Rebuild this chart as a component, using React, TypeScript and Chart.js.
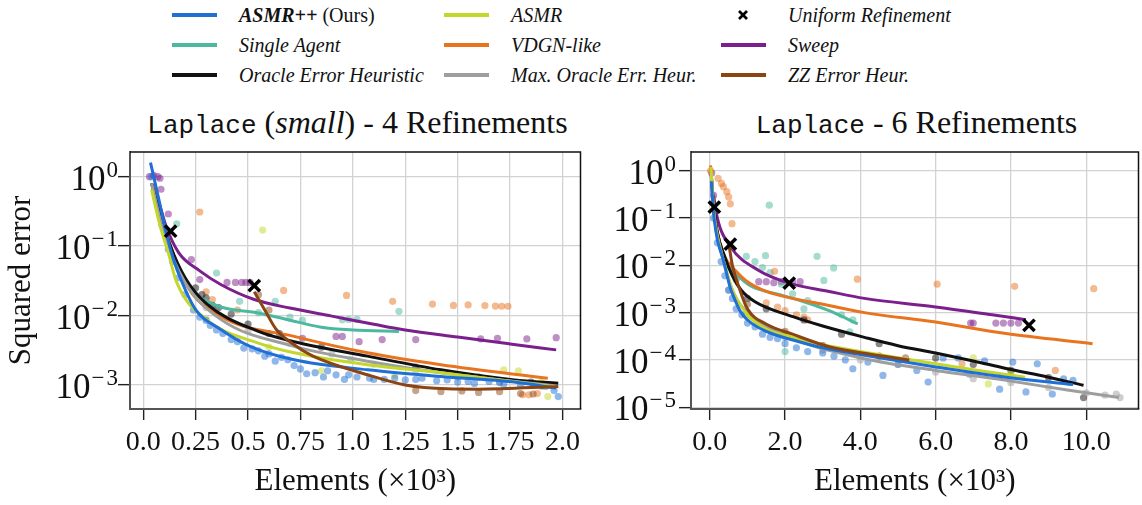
import React, { useEffect, useRef } from "react";
import { Chart, registerables } from "chart.js";

Chart.register(...registerables);

type Pt = [number, number];

const FONT = "'Liberation Serif', 'DejaVu Serif', serif";
const MONO = "'Liberation Mono', 'DejaVu Sans Mono', monospace";

// ---------------- colours
const COLOR_ASMRPP = "#1f6fd6";
const COLOR_SINGLE = "#4db8a0";
const COLOR_ORACLE = "#111111";
const COLOR_ASMR = "#c3d72c";
const COLOR_VDGN = "#e8741f";
const COLOR_MAXORACLE = "#9e9e9e";
const COLOR_SWEEP = "#7b1f8c";
const COLOR_ZZ = "#8b4513";
const COLOR_UNIFORM = "#000000";

// ---------------- ticks
const LEFT_X_TICKS = [0, 0.25, 0.5, 0.75, 1, 1.25, 1.5, 1.75, 2];
const LEFT_X_LABELS = ["0.0", "0.25", "0.5", "0.75", "1.0", "1.25", "1.5", "1.75", "2.0"];
const LEFT_Y_TICKS = [1e-3, 1e-2, 1e-1, 1];
const LEFT_Y_EXPONENTS = ["−3", "−2", "−1", "0"];
const RIGHT_X_TICKS = [0, 2, 4, 6, 8, 10];
const RIGHT_X_LABELS = ["0.0", "2.0", "4.0", "6.0", "8.0", "10.0"];
const RIGHT_Y_TICKS = [1e-5, 1e-4, 1e-3, 1e-2, 1e-1, 1];
const RIGHT_Y_EXPONENTS = ["−5", "−4", "−3", "−2", "−1", "0"];
const Y_TICK_BASE = "10";

const LEFT_TITLE_MONO = "Laplace";
const LEFT_TITLE_PRE = " (";
const LEFT_TITLE_ITALIC = "small";
const LEFT_TITLE_POST = ") - 4 Refinements";
const RIGHT_TITLE_MONO = "Laplace";
const RIGHT_TITLE_POST = " - 6 Refinements";
const X_AXIS_TITLE = "Elements (×10³)";
const Y_AXIS_TITLE = "Squared error";

// ---------------- left plot (Laplace small, 4 refinements)
const L_ASMRPP_LINE: Pt[] = [[0.035, 1.6], [0.075, 0.47], [0.11, 0.155], [0.145, 0.064], [0.18, 0.033], [0.25, 0.0122], [0.37, 0.0063], [0.51, 0.0036], [0.72, 0.0023], [1.07, 0.00165], [1.42, 0.00132], [1.77, 0.0011], [1.97, 0.0009]];
const L_ASMR_LINE: Pt[] = [[0.04, 0.65], [0.08, 0.2], [0.12, 0.08], [0.16, 0.03], [0.3, 0.0088], [0.55, 0.004], [0.72, 0.0029], [1.07, 0.00195], [1.42, 0.0015], [1.95, 0.00095]];
const L_ORACLE_LINE: Pt[] = [[0.04, 0.8], [0.08, 0.3], [0.13, 0.1], [0.2, 0.035], [0.3, 0.015], [0.55, 0.0059], [0.72, 0.0042], [1.07, 0.0026], [1.42, 0.00165], [1.77, 0.00118], [1.98, 0.00106]];
const L_MAXORACLE_LINE: Pt[] = [[0.04, 0.8], [0.1, 0.15], [0.2, 0.03], [0.37, 0.0088], [0.72, 0.0036], [1.07, 0.0022], [1.42, 0.0015], [1.95, 0.00098]];
const L_VDGN_LINE: Pt[] = [[0.05, 0.8], [0.1, 0.2], [0.2, 0.03], [0.37, 0.0098], [0.72, 0.005], [1.07, 0.0029], [1.42, 0.00195], [1.93, 0.00125]];
const L_SINGLE_LINE: Pt[] = [[0.04, 0.8], [0.1, 0.15], [0.2, 0.03], [0.35, 0.014], [0.55, 0.0109], [0.69, 0.0087], [0.85, 0.0068], [1.0, 0.0062], [1.22, 0.0059]];
const L_SWEEP_LINE: Pt[] = [[0.06, 0.6], [0.09, 0.3], [0.11, 0.19], [0.17, 0.08], [0.27, 0.044], [0.37, 0.028], [0.53, 0.017], [0.7, 0.0128], [0.9, 0.0098], [1.1, 0.0075], [1.25, 0.0062], [1.5, 0.0049], [1.75, 0.0039], [1.97, 0.0032]];
const L_ZZ_LINE: Pt[] = [[0.53, 0.022], [0.58, 0.012], [0.635, 0.0063], [0.72, 0.0038], [0.81, 0.0026], [1.07, 0.0014], [1.25, 0.001], [1.45, 0.00088], [1.6, 0.00087], [1.98, 0.00095]];
const L_UNIFORM: Pt[] = [[0.131, 0.164], [0.53, 0.027]];

const L_ASMRPP_DOTS: Pt[] = [[0.04, 1.0], [0.06, 0.5], [0.09, 0.2], [0.12, 0.09], [0.14, 0.06], [0.17, 0.035], [0.2, 0.02], [0.24, 0.012], [0.27, 0.0095], [0.3, 0.0085], [0.32, 0.0072], [0.35, 0.0062], [0.38, 0.0055], [0.42, 0.0045], [0.45, 0.0042], [0.48, 0.0034], [0.52, 0.0033], [0.55, 0.0031], [0.58, 0.0026], [0.6, 0.0028], [0.63, 0.0022], [0.66, 0.0025], [0.69, 0.0023], [0.72, 0.0019], [0.75, 0.0017], [0.78, 0.00145], [0.82, 0.0015], [0.86, 0.0013], [0.88, 0.0016], [0.92, 0.0014], [0.96, 0.0012], [0.98, 0.0014], [1.02, 0.0013], [1.08, 0.00125], [1.1, 0.0012], [1.15, 0.0012], [1.2, 0.00125], [1.25, 0.00118], [1.3, 0.0012], [1.33, 0.00125], [1.4, 0.00115], [1.45, 0.00118], [1.5, 0.0011], [1.55, 0.00112], [1.58, 0.00105], [1.65, 0.00112], [1.7, 0.00108], [1.72, 0.00102], [1.8, 0.00098], [1.86, 0.00105], [1.9, 0.00098], [1.92, 0.00095], [1.96, 0.00083], [1.98, 0.00068]];
const L_ASMR_DOTS: Pt[] = [[0.57, 0.17], [0.3, 0.009], [0.6, 0.0035], [0.85, 0.0016], [1.2, 0.0014], [1.72, 0.00165], [1.79, 0.0016], [1.9, 0.0011], [1.93, 0.00068]];
const L_ORACLE_DOTS: Pt[] = [[0.25, 0.025], [0.28, 0.02], [0.3, 0.018], [0.33, 0.014], [0.36, 0.013], [0.42, 0.0105], [0.5, 0.0075], [0.6, 0.0055], [0.65, 0.0055], [0.85, 0.0035], [1.3, 0.0018], [1.6, 0.0013], [1.85, 0.0011]];
const L_MAXORACLE_DOTS: Pt[] = [[0.3, 0.013], [0.5, 0.006], [0.7, 0.004], [0.9, 0.0028], [1.1, 0.002], [1.3, 0.0016], [1.5, 0.0013], [1.7, 0.0011], [1.9, 0.00095]];
const L_VDGN_DOTS: Pt[] = [[0.27, 0.31], [0.3, 0.022], [0.33, 0.017], [0.45, 0.012], [0.67, 0.023], [0.97, 0.0195], [1.19, 0.016], [1.38, 0.0146], [1.48, 0.014], [1.55, 0.0142], [1.63, 0.0139], [1.68, 0.0137], [1.71, 0.0136], [1.74, 0.0136], [1.81, 0.00072], [1.84, 0.00072], [1.88, 0.00075]];
const L_SINGLE_DOTS: Pt[] = [[0.16, 0.21], [0.35, 0.041], [0.46, 0.016], [0.55, 0.011], [0.63, 0.016], [0.7, 0.0095], [0.76, 0.0085], [0.95, 0.0087], [0.98, 0.0088], [1.02, 0.0088], [1.22, 0.0115], [0.99, 0.0023]];
const L_SWEEP_DOTS: Pt[] = [[0.03, 1.0], [0.05, 1.05], [0.07, 1.0], [0.08, 0.95], [0.085, 0.66], [0.12, 0.29], [0.23, 0.064], [0.27, 0.033], [0.4, 0.03], [0.44, 0.03], [0.47, 0.03], [0.49, 0.03], [0.51, 0.03], [0.76, 0.0047], [0.92, 0.005], [0.95, 0.005], [1.03, 0.0042], [1.14, 0.0045], [1.3, 0.0045], [1.61, 0.0046], [1.69, 0.0047], [1.83, 0.0046], [1.97, 0.0048]];
const L_ZZ_DOTS: Pt[] = [[0.55, 0.02], [0.6, 0.012], [1.3, 0.00083], [1.42, 0.0008], [1.52, 0.00082], [1.6, 0.00078], [1.7, 0.0008], [1.8, 0.00075], [1.86, 0.00074]];

// ---------------- right plot (Laplace, 6 refinements)
const R_ASMRPP_LINE: Pt[] = [[0.04, 0.6], [0.08, 0.2], [0.12, 0.09], [0.2, 0.035], [0.36, 0.0128], [0.54, 0.0034], [0.64, 0.0021], [0.8, 0.0011], [1.01, 0.00069], [1.5, 0.0004], [2.23, 0.00026], [3.0, 0.00018], [4.11, 0.000125], [6.0, 0.000071], [7.87, 0.000043], [9.65, 0.00003]];
const R_ASMR_LINE: Pt[] = [[0.03, 1.2], [0.1, 0.15], [0.2, 0.04], [0.4, 0.01], [0.6, 0.003], [1.0, 0.0009], [1.5, 0.00045], [2.23, 0.0003], [3.0, 0.00021], [4.11, 0.000146], [6.0, 0.000083], [7.0, 0.000062], [8.38, 0.000043]];
const R_ORACLE_LINE: Pt[] = [[0.04, 0.8], [0.1, 0.2], [0.2, 0.05], [0.4, 0.015], [0.6, 0.006], [0.83, 0.003], [1.2, 0.0017], [2.23, 0.00081], [3.0, 0.00052], [4.11, 0.0003], [5.0, 0.0002], [6.0, 0.00014], [7.0, 0.000095], [7.87, 0.000066], [9.0, 0.000043], [9.93, 0.000029]];
const R_MAXORACLE_LINE: Pt[] = [[0.04, 0.8], [0.1, 0.15], [0.3, 0.02], [0.6, 0.003], [1.0, 0.001], [2.23, 0.00028], [4.11, 0.000106], [6.0, 0.00006], [7.87, 0.000037], [9.5, 0.000023], [10.87, 0.000016]];
const R_VDGN_LINE: Pt[] = [[0.02, 1.3], [0.05, 0.6], [0.1, 0.15], [0.2, 0.05], [0.4, 0.015], [0.7, 0.0075], [1.0, 0.0045], [1.5, 0.0028], [2.2, 0.002], [3.0, 0.0015], [4.11, 0.001], [6.0, 0.00063], [7.87, 0.00036], [10.17, 0.00022]];
const R_SINGLE_LINE: Pt[] = [[0.04, 0.8], [0.1, 0.15], [0.2, 0.05], [0.4, 0.012], [0.7, 0.0065], [1.1, 0.0036], [1.86, 0.0024], [2.5, 0.0017], [3.17, 0.0011], [3.93, 0.00058]];
const R_SWEEP_LINE: Pt[] = [[0.1, 0.3], [0.2, 0.1], [0.545, 0.025], [1.3, 0.0078], [2.11, 0.0042], [3.17, 0.0028], [4.11, 0.002], [6.0, 0.00132], [7.5, 0.0009], [8.4, 0.00071]];
const R_ZZ_LINE: Pt[] = [[0.5, 0.03], [0.6, 0.01], [0.8, 0.003], [1.0, 0.0012], [1.48, 0.00058], [2.2, 0.00035], [3.17, 0.00019], [4.3, 0.00013], [5.3, 0.0001]];
const R_UNIFORM: Pt[] = [[0.12, 0.17], [0.545, 0.028], [2.11, 0.0042], [8.48, 0.00054]];

const R_ASMRPP_DOTS: Pt[] = [[0.1, 0.1], [0.2, 0.03], [0.3, 0.012], [0.4, 0.006], [0.5, 0.003], [0.6, 0.002], [0.7, 0.0012], [0.85, 0.0009], [1.0, 0.0006], [1.2, 0.0005], [1.4, 0.00035], [1.6, 0.0003], [1.8, 0.00028], [2.0, 0.00022], [2.3, 0.00018], [2.6, 0.00015], [3.0, 0.00014], [3.3, 0.00012], [3.6, 0.0001], [3.8, 0.000065], [4.2, 0.00009], [4.6, 0.000047], [5.0, 0.00008], [5.5, 0.00006], [5.8, 0.000034], [6.2, 0.00011], [6.6, 0.00011], [6.9, 0.00005], [7.3, 0.000095], [7.7, 0.000024], [8.05, 0.00009], [8.4, 0.000021], [8.7, 0.000083], [9.1, 0.000019], [9.4, 0.00004], [9.65, 0.000037]];
const R_ASMR_DOTS: Pt[] = [[1.0, 0.0008], [2.0, 0.00035], [3.0, 0.0002], [4.5, 0.00012], [7.0, 0.00011], [7.4, 0.000031], [8.0, 0.00005]];
const R_ORACLE_DOTS: Pt[] = [[0.5, 0.01], [1.0, 0.002], [1.5, 0.0012], [2.5, 0.0007], [3.5, 0.00035], [4.5, 0.00022], [6.0, 0.00011], [7.0, 0.00008], [8.0, 0.00006], [9.0, 0.000042], [9.93, 0.000016]];
const R_MAXORACLE_DOTS: Pt[] = [[0.5, 0.003], [1.0, 0.0009], [2.0, 0.0003], [3.0, 0.00016], [4.0, 0.0001], [5.0, 0.00008], [6.0, 0.000055], [7.0, 0.00004], [8.0, 0.000033], [9.0, 0.000026], [10.0, 0.00002], [10.5, 0.000018], [10.8, 0.000019], [10.9, 0.000016]];
const R_VDGN_DOTS: Pt[] = [[0.02, 1.0], [0.22, 0.69], [0.31, 0.54], [0.36, 0.46], [0.45, 0.36], [0.5, 0.28], [0.545, 0.2], [0.59, 0.076], [1.72, 0.0075], [3.92, 0.0051], [6.04, 0.004], [8.1, 0.0036], [10.2, 0.0032], [9.18, 0.00006], [6.7, 0.000083], [1.5, 0.0016], [1.8, 0.0013], [2.0, 0.0011], [2.3, 0.0009], [2.5, 0.0008], [2.6, 0.0007]];
const R_SINGLE_DOTS: Pt[] = [[1.58, 0.187], [0.97, 0.0155], [1.2, 0.012], [1.48, 0.016], [2.85, 0.0155], [3.29, 0.0088], [3.03, 0.0048], [1.4, 0.009], [1.6, 0.007], [1.9, 0.004], [2.2, 0.0025], [2.5, 0.0012], [2.6, 0.0018], [3.5, 0.0009], [3.72, 0.00039], [3.8, 0.0007], [2.0, 0.00015]];
const R_SWEEP_DOTS: Pt[] = [[0.05, 0.9], [0.1, 0.3], [1.3, 0.0045], [1.5, 0.0045], [1.7, 0.0043], [1.9, 0.0045], [2.2, 0.0044], [2.4, 0.0045], [6.93, 0.0006], [7.0, 0.0006], [7.6, 0.0006], [7.8, 0.0006], [8.0, 0.0006], [8.2, 0.0006]];
const R_ZZ_DOTS: Pt[] = [[0.7, 0.005], [1.0, 0.0015], [2.0, 0.0004], [3.0, 0.0002], [4.5, 0.00012], [5.2, 0.00011]];

// ---------------- legend
const LEGEND_ITEMS = [
  { label: "ASMR++", suffix: " (Ours)", color: COLOR_ASMRPP, col: 0, row: 0, bold: true, marker: false },
  { label: "Single Agent", suffix: "", color: COLOR_SINGLE, col: 0, row: 1, bold: false, marker: false },
  { label: "Oracle Error Heuristic", suffix: "", color: COLOR_ORACLE, col: 0, row: 2, bold: false, marker: false },
  { label: "ASMR", suffix: "", color: COLOR_ASMR, col: 1, row: 0, bold: false, marker: false },
  { label: "VDGN-like", suffix: "", color: COLOR_VDGN, col: 1, row: 1, bold: false, marker: false },
  { label: "Max. Oracle Err. Heur.", suffix: "", color: COLOR_MAXORACLE, col: 1, row: 2, bold: false, marker: false },
  { label: "Uniform Refinement", suffix: "", color: COLOR_UNIFORM, col: 2, row: 0, bold: false, marker: true },
  { label: "Sweep", suffix: "", color: COLOR_SWEEP, col: 2, row: 1, bold: false, marker: false },
  { label: "ZZ Error Heur.", suffix: "", color: COLOR_ZZ, col: 2, row: 2, bold: false, marker: false },
];
const LEGEND_COL_X = [172, 444, 721];
const LEGEND_ROW_Y = [15, 45, 75];

interface SeriesDef { key: string; color: string; line: Pt[]; dots: Pt[] }

const LEFT_SERIES: SeriesDef[] = [
  { key: "ZZ Error Heur.", color: COLOR_ZZ, line: L_ZZ_LINE, dots: L_ZZ_DOTS },
  { key: "ASMR++ (Ours)", color: COLOR_ASMRPP, line: L_ASMRPP_LINE, dots: L_ASMRPP_DOTS },
  { key: "ASMR", color: COLOR_ASMR, line: L_ASMR_LINE, dots: L_ASMR_DOTS },
  { key: "Max. Oracle Err. Heur.", color: COLOR_MAXORACLE, line: L_MAXORACLE_LINE, dots: L_MAXORACLE_DOTS },
  { key: "Oracle Error Heuristic", color: COLOR_ORACLE, line: L_ORACLE_LINE, dots: L_ORACLE_DOTS },
  { key: "VDGN-like", color: COLOR_VDGN, line: L_VDGN_LINE, dots: L_VDGN_DOTS },
  { key: "Single Agent", color: COLOR_SINGLE, line: L_SINGLE_LINE, dots: L_SINGLE_DOTS },
  { key: "Sweep", color: COLOR_SWEEP, line: L_SWEEP_LINE, dots: L_SWEEP_DOTS },
];
const RIGHT_SERIES: SeriesDef[] = [
  { key: "ZZ Error Heur.", color: COLOR_ZZ, line: R_ZZ_LINE, dots: R_ZZ_DOTS },
  { key: "ASMR++ (Ours)", color: COLOR_ASMRPP, line: R_ASMRPP_LINE, dots: R_ASMRPP_DOTS },
  { key: "ASMR", color: COLOR_ASMR, line: R_ASMR_LINE, dots: R_ASMR_DOTS },
  { key: "Max. Oracle Err. Heur.", color: COLOR_MAXORACLE, line: R_MAXORACLE_LINE, dots: R_MAXORACLE_DOTS },
  { key: "Oracle Error Heuristic", color: COLOR_ORACLE, line: R_ORACLE_LINE, dots: R_ORACLE_DOTS },
  { key: "VDGN-like", color: COLOR_VDGN, line: R_VDGN_LINE, dots: R_VDGN_DOTS },
  { key: "Single Agent", color: COLOR_SINGLE, line: R_SINGLE_LINE, dots: R_SINGLE_DOTS },
  { key: "Sweep", color: COLOR_SWEEP, line: R_SWEEP_LINE, dots: R_SWEEP_DOTS },
];

function hexA(hex: string, a: number) {
  const n = parseInt(hex.slice(1), 16);
  return `rgba(${(n >> 16) & 255},${(n >> 8) & 255},${n & 255},${a})`;
}

function buildDatasets(series: SeriesDef[], uniform: Pt[]) {
  const ds: any[] = [];
  ds.push({
    type: "scatter", label: "Uniform Refinement",
    data: uniform.map(([x, y]) => ({ x, y })),
    pointStyle: "crossRot", pointRadius: 8, borderWidth: 3.5,
    borderColor: COLOR_UNIFORM, backgroundColor: COLOR_UNIFORM, order: 0,
  });
  series.forEach((s, i) => {
    ds.push({
      type: "line", label: s.key,
      data: s.line.map(([x, y]) => ({ x, y })),
      borderColor: s.color, backgroundColor: s.color, borderWidth: 3,
      pointRadius: 0, fill: false, cubicInterpolationMode: "monotone", order: i + 1,
    });
  });
  series.forEach((s, i) => {
    ds.push({
      type: "scatter", label: s.key + " runs",
      data: s.dots.map(([x, y]) => ({ x, y })),
      backgroundColor: hexA(s.color, 0.5), borderWidth: 0, pointRadius: 3.6, order: 50 + i,
    });
  });
  return ds;
}

const expTickPlugin = {
  id: "expTicks",
  afterDraw(chart: any, _args: any, opts: any) {
    const scale = chart.scales.y;
    const ctx = chart.ctx;
    const right = chart.chartArea.left - opts.gap;
    ctx.save();
    ctx.fillStyle = "#111";
    ctx.textAlign = "left";
    ctx.textBaseline = "alphabetic";
    opts.values.forEach((v: number, i: number) => {
      const y = scale.getPixelForValue(v);
      const exp = opts.exps[i];
      ctx.font = `${opts.expSize}px ${FONT}`;
      const ew = ctx.measureText(exp).width + (exp.length > 1 ? 2 : 0);
      ctx.font = `${opts.baseSize}px ${FONT}`;
      const bw = ctx.measureText(Y_TICK_BASE).width;
      const baseline = y + opts.baseShift;
      ctx.fillText(Y_TICK_BASE, right - ew - bw - 1, baseline);
      ctx.font = `${opts.expSize}px ${FONT}`;
      if (exp.length > 1) {
        ctx.fillText(exp[0], right - ew, baseline - opts.expRaise);
        const w0 = ctx.measureText(exp[0]).width;
        ctx.fillText(exp.slice(1), right - ew + w0 + 2, baseline - opts.expRaise);
      } else {
        ctx.fillText(exp, right - ew, baseline - opts.expRaise);
      }
    });
    ctx.restore();
  },
};

const framePlugin = {
  id: "frame",
  afterDraw(chart: any) {
    const { ctx, chartArea } = chart;
    const { left, right, top, bottom } = chartArea;
    ctx.save();
    ctx.strokeStyle = "#111";
    ctx.lineWidth = 1.5;
    ctx.beginPath();
    ctx.moveTo(left, top);
    ctx.lineTo(right, top);
    ctx.lineTo(right, bottom);
    ctx.stroke();
    ctx.restore();
  },
};

interface PlotSpec {
  series: SeriesDef[]; uniform: Pt[];
  xMin: number; xMax: number; xTicks: number[]; xLabels: string[];
  yMin: number; yMax: number; yTicks: number[]; yExps: string[];
  yWidth: number; padRight: number; yTitle: string; labelGap: number;
}

function makeConfig(p: PlotSpec): any {
  const gridBase = { color: "#d2d2d2", lineWidth: 1.3, drawTicks: true, tickColor: "#222", tickWidth: 1.4 };
  return {
    type: "scatter",
    data: { datasets: buildDatasets(p.series, p.uniform) },
    options: {
      animation: false, responsive: false, maintainAspectRatio: false, events: [],
      layout: { padding: { left: 0, right: p.padRight, top: 52, bottom: 0 } },
      plugins: {
        legend: { display: false }, tooltip: { enabled: false }, title: { display: false },
        expTicks: { values: p.yTicks, exps: p.yExps, gap: p.labelGap, baseSize: 35, expSize: 23, baseShift: 13, expRaise: 13 },
      },
      scales: {
        x: {
          type: "linear", min: p.xMin, max: p.xMax,
          afterFit: (s: any) => { s.height = 96; },
          afterBuildTicks: (s: any) => { s.ticks = p.xTicks.map((v) => ({ value: v })); },
          ticks: {
            autoSkip: false, maxRotation: 0, minRotation: 0, padding: 6, color: "#111",
            font: { family: FONT, size: 28 },
            callback: (_v: any, i: number) => p.xLabels[i],
          },
          grid: { ...gridBase, tickLength: 11 },
          border: { display: true, color: "#555", width: 2 },
          title: { display: true, text: X_AXIS_TITLE, color: "#111", font: { family: FONT, size: 31 }, padding: { top: 0, bottom: 5 } },
        },
        y: {
          type: "logarithmic", min: p.yMin, max: p.yMax,
          afterFit: (s: any) => { s.width = p.yWidth; },
          afterBuildTicks: (s: any) => { s.ticks = p.yTicks.map((v) => ({ value: v })); },
          ticks: { display: false },
          grid: { ...gridBase, tickLength: 12 },
          border: { display: true, color: "#555", width: 2 },
          title: { display: p.yTitle !== "", text: p.yTitle, color: "#111", font: { family: FONT, size: 31 }, padding: { top: 3, bottom: 0 } },
        },
      },
    },
    plugins: [expTickPlugin, framePlugin],
  };
}

const LEFT_SPEC: PlotSpec = {
  series: LEFT_SERIES, uniform: L_UNIFORM,
  xMin: -0.0628, xMax: 2.086, xTicks: LEFT_X_TICKS, xLabels: LEFT_X_LABELS,
  yMin: 4.5e-4, yMax: 2.27, yTicks: LEFT_Y_TICKS, yExps: LEFT_Y_EXPONENTS,
  yWidth: 130, padRight: 7, yTitle: Y_AXIS_TITLE, labelGap: 12,
};
const RIGHT_SPEC: PlotSpec = {
  series: RIGHT_SERIES, uniform: R_UNIFORM,
  xMin: -0.5, xMax: 11.39, xTicks: RIGHT_X_TICKS, xLabels: RIGHT_X_LABELS,
  yMin: 9.16e-6, yMax: 2.49, yTicks: RIGHT_Y_TICKS, yExps: RIGHT_Y_EXPONENTS,
  yWidth: 91, padRight: 7, yTitle: "", labelGap: 15,
};

function ChartCanvas({ spec, left, width }: { spec: PlotSpec; left: number; width: number }) {
  const ref = useRef<HTMLCanvasElement | null>(null);
  useEffect(() => {
    if (!ref.current) return;
    const chart = new Chart(ref.current, makeConfig(spec));
    return () => chart.destroy();
  }, [spec]);
  return (
    <canvas ref={ref} width={width} height={405}
      style={{ position: "absolute", left, top: 100, width, height: 405 }} />
  );
}

function Legend() {
  return (
    <>
      {LEGEND_ITEMS.map((it) => {
        const x = LEGEND_COL_X[it.col];
        const y = LEGEND_ROW_Y[it.row];
        return (
          <div key={it.label} style={{ position: "absolute", left: x, top: y - 14, height: 28, display: "flex", alignItems: "center" }}>
            {it.marker ? (
              <svg width={45} height={12} style={{ display: "block" }}>
                <line x1={18} y1={2} x2={26} y2={10} stroke="#000" strokeWidth={2.6} />
                <line x1={26} y1={2} x2={18} y2={10} stroke="#000" strokeWidth={2.6} />
              </svg>
            ) : (
              <div style={{ width: 45, height: 3.5, background: it.color }} />
            )}
            <span style={{ marginLeft: 22, fontFamily: FONT, fontSize: 20, fontStyle: "italic", color: "#111", whiteSpace: "nowrap" }}>
              <span style={{ fontWeight: it.bold ? "bold" : "normal" }}>{it.label}</span>
              {it.suffix ? <span style={{ fontStyle: "normal" }}>{it.suffix}</span> : null}
            </span>
          </div>
        );
      })}
    </>
  );
}

export default function App() {
  useEffect(() => {
    document.body.style.margin = "0";
  }, []);
  const titleStyle: React.CSSProperties = {
    position: "absolute", top: 104, height: 36, lineHeight: "36px", textAlign: "center",
    fontFamily: FONT, fontSize: 32, color: "#111", whiteSpace: "nowrap",
  };
  return (
    <div style={{ position: "absolute", left: 0, top: 0, width: 1142, height: 505, overflow: "hidden", background: "#fff" }}>
      <Legend />
      <div style={{ ...titleStyle, left: 130, width: 455 }}>
        <span style={{ fontFamily: MONO, fontSize: 26 }}>{LEFT_TITLE_MONO}</span>
        {LEFT_TITLE_PRE}<i>{LEFT_TITLE_ITALIC}</i>{LEFT_TITLE_POST}
      </div>
      <div style={{ ...titleStyle, left: 691, width: 451 }}>
        <span style={{ fontFamily: MONO, fontSize: 26 }}>{RIGHT_TITLE_MONO}</span>
        {RIGHT_TITLE_POST}
      </div>
      <ChartCanvas spec={LEFT_SPEC} left={0} width={592} />
      <ChartCanvas spec={RIGHT_SPEC} left={600} width={550} />
    </div>
  );
}
